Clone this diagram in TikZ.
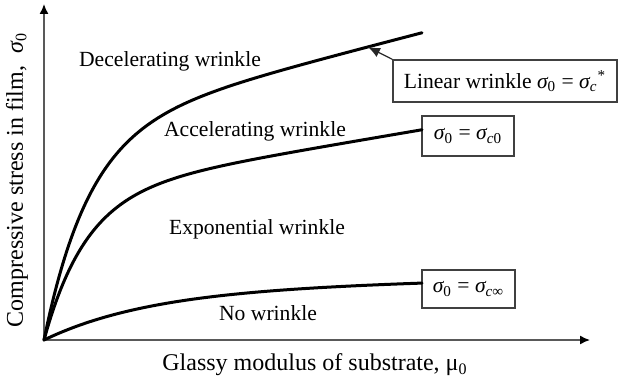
\documentclass[tikz,border=0pt]{standalone}
\usepackage{fontspec}
\setmainfont{Liberation Serif}
\usetikzlibrary{arrows.meta}
\newcommand{\sgm}{{\itshape σ}}
\newcommand{\sbs}[1]{\textsubscript{#1}}
\begin{document}
\begin{tikzpicture}[x=0.5pt,y=-0.5pt,
  every node/.style={font=\fontsize{10.8}{13}\selectfont},
  curve/.style={line width=1.5pt, black, line join=round, line cap=round},
  axis/.style={line width=0.75pt, draw=black!65, -{Latex[length=5pt,width=4.5pt,black]}},
  box/.style={draw=black!75, line width=0.6pt, fill=white, inner sep=0pt},
  lbl/.style={inner sep=0pt},
  axlbl/.style={inner sep=0pt, font=\fontsize{12}{14}\selectfont}]
\useasboundingbox (0,0) rectangle (624,379);
\coordinate (O) at (44,340);
\coordinate (ytop) at (44,4);
\coordinate (xend) at (590,340);
\draw[axis] (O) -- (ytop);
\draw[axis] (O) -- (xend);
% boxes
\node[box, minimum width=112pt, minimum height=21pt] (lin) at (505,81)
  {Linear wrinkle \sgm\sbs{0} = \sgm\sbs{\itshape c}\textsuperscript{*}};
\node[box, minimum width=46pt, minimum height=20pt] (c0) at (468,136)
  {\sgm\sbs{0} = \sgm\sbs{{\itshape c}0}};
\node[box, minimum width=46.5pt, minimum height=19pt] (cinf) at (468.5,289)
  {\sgm\sbs{0} = \sgm\sbs{{\itshape c}∞}};
% curves (start at O, end at the boxes / free end)
\coordinate (tip) at (368,47);
\draw[curve] plot[domain=0:378, samples=120, smooth]
  ({44+\x},{340-209*(1-exp(-\x/45))-0.26*\x});
\draw[curve] plot[domain=0:378, samples=120, smooth]
  ({44+\x},{340-146*(1-exp(-\x/42))-0.17*\x});
\draw[curve] plot[domain=0:378, samples=100, smooth]
  ({44+\x},{340-51*(1-exp(-\x/110))-0.02*\x});
\draw[-{Latex[length=6pt,width=5pt]}, line width=0.6pt, black!85] (lin.north west) -- (tip);
% labels
\node[lbl] (dec) at (170,61) {Decelerating wrinkle};
\node[lbl] (acc) at (255,131) {Accelerating wrinkle};
\node[lbl] (expo) at (257,229) {Exponential wrinkle};
\node[lbl] (no) at (268,313) {No wrinkle};
\node[axlbl] (xl) at (315,365) {Glassy modulus of substrate, μ\sbs{0}};
\node[axlbl, rotate=90] (yl) at (17,180) {Compressive stress in film,\ \ \sgm\sbs{0}};
\end{tikzpicture}
\end{document}
